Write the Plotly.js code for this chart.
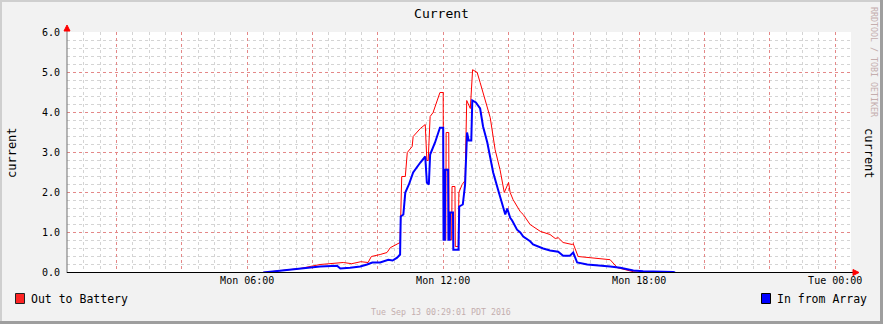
<!DOCTYPE html>
<html>
<head>
<meta charset="utf-8">
<script src="https://cdn.plot.ly/plotly-3.0.1.min.js"></script>
<style>
  html, body { margin: 0; padding: 0; background: #F2F2F2; }
  #wrap { position: relative; width: 883px; height: 324px; overflow: hidden; }
  #chart { position: absolute; left: 0; top: 0; width: 883px; height: 324px; }
  .b { position: absolute; pointer-events: none; }
</style>
</head>
<body>
<div id="wrap">
  <div id="chart"></div>
  <div class="b" style="left:0;top:0;width:883px;height:2px;background:#CFCFCF"></div>
  <div class="b" style="left:0;top:0;width:2px;height:324px;background:#CFCFCF"></div>
  <div class="b" style="left:0;top:321px;width:883px;height:3px;background:#9E9E9E"></div>
  <div class="b" style="left:880px;top:0;width:3px;height:324px;background:#9E9E9E"></div>
</div>
<script>
// ---- data (hours since Mon 00:00, amps) ----
const titleText = "Current";
const unitLabel = "current";
const seriesNames = ["Out to Battery", "In from Array"];
const seriesColors = ["#FF0000", "#0000FF"];
const xRange = [0.4836, 24.4836];
const tickHours = [2, 4, 6, 8, 10, 12, 14, 16, 18, 20, 22, 24];
const tickLabels = ["", "", "Mon 06:00", "", "", "Mon 12:00", "", "", "Mon 18:00", "", "", "Tue 00:00"];
const yTicks = [0, 1, 2, 3, 4, 5, 6];
const watermark = "Tue Sep 13 00:29:01 PDT 2016";
const sideText = "RRDTOOL / TOBI OETIKER";

const outHours = [6.49, 7.01, 7.62, 8.23, 8.5, 8.75, 8.94, 9.2, 9.33, 9.48, 9.7, 9.8, 10.07, 10.28, 10.38, 10.59, 10.68,
  10.73, 10.84, 10.9, 11.05, 11.08, 11.3, 11.45, 11.5, 11.54, 11.6, 11.69, 11.85, 11.9, 12.0,
  12.01, 12.08, 12.09, 12.17, 12.18, 12.26, 12.27, 12.36, 12.37, 12.46, 12.48, 12.58, 12.67, 12.72, 12.83, 12.9,
  13.04, 13.13, 13.22, 13.35, 13.44, 13.59, 13.74, 13.87, 13.96, 14.0, 14.05, 14.14, 14.36, 14.45, 14.66, 14.97,
  15.27, 15.43, 15.52, 15.67, 15.95, 15.98, 16.13, 16.5, 17.11, 17.33, 17.82, 18.03];
const outAmps = [0.0, 0.05, 0.1, 0.2, 0.22, 0.22, 0.25, 0.22, 0.25, 0.27, 0.25, 0.4, 0.45, 0.5, 0.62, 0.7, 0.75,
  2.4, 2.4, 3.0, 3.15, 3.4, 3.6, 3.7, 2.8, 2.8, 3.9, 4.0, 4.4, 4.5, 4.5,
  0.82, 0.82, 3.5, 3.5, 0.82, 0.82, 2.15, 2.15, 0.65, 0.65, 2.0, 2.2, 2.3, 4.3, 4.1, 5.07,
  5.0, 4.75, 4.5, 4.15, 3.87, 3.07, 2.57, 2.0, 2.2, 2.25, 2.0, 1.82, 1.52, 1.45, 1.2, 1.03,
  0.95, 0.85, 0.87, 0.75, 0.7, 0.72, 0.4, 0.37, 0.32, 0.12, 0.02, 0.0];

const inHours = [6.49, 7.01, 7.62, 8.23, 8.75, 8.85, 9.15, 9.46, 9.67, 9.83, 10.07, 10.32, 10.45, 10.59, 10.68,
  10.70, 10.78, 10.84, 10.95, 11.08, 11.3, 11.45, 11.5, 11.56, 11.6, 11.75, 11.9, 12.0,
  12.01, 12.05, 12.06, 12.15, 12.16, 12.2, 12.21, 12.3, 12.31, 12.47, 12.49, 12.6, 12.67, 12.73, 12.78, 12.86, 12.89,
  13.0, 13.13, 13.22, 13.35, 13.44, 13.53, 13.68, 13.84, 13.9, 13.96, 14.05, 14.11, 14.26, 14.36, 14.45, 14.66,
  14.75, 15.06, 15.27, 15.52, 15.67, 15.88, 15.98, 16.1, 16.41, 17.11, 17.42, 17.82, 18.12, 19.04, 19.1];
const inAmps = [0.0, 0.05, 0.1, 0.15, 0.17, 0.1, 0.12, 0.15, 0.2, 0.25, 0.25, 0.32, 0.3, 0.37, 0.45,
  1.4, 1.45, 2.0, 2.2, 2.5, 2.75, 2.9, 2.25, 2.2, 2.95, 3.25, 3.62, 3.62,
  0.82, 0.82, 2.57, 2.57, 0.82, 0.82, 1.5, 1.5, 0.57, 0.57, 1.65, 1.7, 2.2, 3.5, 3.3, 3.3, 4.3,
  4.25, 4.1, 3.65, 3.25, 2.9, 2.5, 2.07, 1.65, 1.45, 1.6, 1.37, 1.3, 1.07, 1.0, 0.9, 0.78,
  0.7, 0.6, 0.55, 0.52, 0.42, 0.42, 0.5, 0.25, 0.2, 0.15, 0.12, 0.05, 0.03, 0.01, 0.0];

// ---- grid positions (minor lines that do not sit on a major line) ----
const xMinor = [];
for (let k = 1; k <= 48; k++) { const v = k * 0.5; if (!tickHours.includes(v)) xMinor.push(v); }
const yMinor = [];
for (let k = 1; k < 30; k++) { if (k % 5 !== 0) yMinor.push(Math.round(k * 2) / 10); }

// ---- layout geometry ----
const W = 883, H = 324, L = 67, R = 32, T = 32, B = 51;
const pw = W - L - R, ph = H - T - B;          // ph = 241 px -> 40 px per amp over 6.025
const px = x => (x - L) / pw;
const py = y => (H - B - y) / ph;
const halfPx = 0.0125;                          // half a pixel in amps, keeps grid lines crisp
const yRange = [-halfPx, 6 + halfPx];

const mono = "DejaVu Sans Mono";
const majorGrid = "#E48888";
const minorGrid = "#D4D4D4";
const gdash = "dot";

const traces = [
  { x: outHours, y: outAmps, name: seriesNames[0], type: "scatter", mode: "lines",
    line: { color: seriesColors[0], width: 1 }, hoverinfo: "skip" },
  { x: inHours, y: inAmps, name: seriesNames[1], type: "scatter", mode: "lines",
    line: { color: seriesColors[1], width: 2 }, hoverinfo: "skip" }
];

const layout = {
  width: W, height: H,
  margin: { l: L, r: R, t: T, b: B, pad: 0 },
  paper_bgcolor: "#F2F2F2",
  plot_bgcolor: "#FFFFFF",
  showlegend: false,
  title: { text: titleText, font: { family: mono, size: 13, color: "#000" },
           xref: "container", x: 0.5, xanchor: "center", yref: "container", y: 1 - 13 / H, yanchor: "middle" },
  xaxis: {
    range: xRange, tickmode: "array", tickvals: tickHours, ticktext: tickLabels,
    showgrid: true, gridcolor: majorGrid, griddash: gdash, gridwidth: 1,
    minor: { tickmode: "array", tickvals: xMinor, showgrid: true, gridcolor: minorGrid, griddash: gdash, gridwidth: 1, ticklen: 0 },
    showline: false, zeroline: false, ticks: "", ticklen: 0,
    tickfont: { family: mono, size: 10, color: "#000" }, fixedrange: true
  },
  yaxis: {
    range: yRange, tickmode: "array", tickvals: yTicks, tickformat: ".1f",
    showgrid: true, gridcolor: majorGrid, griddash: gdash, gridwidth: 1,
    minor: { tickmode: "array", tickvals: yMinor, showgrid: true, gridcolor: minorGrid, griddash: gdash, gridwidth: 1, ticklen: 0 },
    showline: false, zeroline: false, ticks: "", ticklen: 0, ticklabelstandoff: 6,
    tickfont: { family: mono, size: 10, color: "#000" }, fixedrange: true
  },
  shapes: [
    { type: "line", xref: "paper", yref: "paper", x0: 0, x1: 0, y0: 0, y1: py(28), line: { color: "#707070", width: 1 }, layer: "above" },
    { type: "path", xref: "paper", yref: "paper",
      path: `M ${px(64)} ${py(31)} L ${px(70)} ${py(31)} L ${px(67)} ${py(25)} Z`,
      fillcolor: "#FF0000", line: { color: "#FF0000", width: 1 }, layer: "above" },
    { type: "line", xref: "paper", yref: "paper", x0: 0, x1: px(855), y0: py(272.5), y1: py(272.5), line: { color: "#000000", width: 1 }, layer: "above" },
    { type: "path", xref: "paper", yref: "paper",
      path: `M ${px(853)} ${py(269.5)} L ${px(853)} ${py(275.5)} L ${px(859)} ${py(272.5)} Z`,
      fillcolor: "#FF0000", line: { color: "#FF0000", width: 1 }, layer: "above" },
    { type: "rect", xref: "paper", yref: "paper", x0: px(15.5), x1: px(24.5), y0: py(303.5), y1: py(293.5),
      fillcolor: seriesColors[0], line: { color: "#000", width: 1 }, opacity: 0.85 },
    { type: "rect", xref: "paper", yref: "paper", x0: px(761.5), x1: px(770.5), y0: py(303.5), y1: py(293.5),
      fillcolor: seriesColors[1], line: { color: "#000", width: 1 } }
  ],
  annotations: [
    { text: unitLabel, xref: "paper", yref: "paper", x: px(12), y: py(153), textangle: -90,
      showarrow: false, xanchor: "center", yanchor: "middle", font: { family: mono, size: 12, color: "#000" } },
    { text: unitLabel, xref: "paper", yref: "paper", x: px(869), y: py(153), textangle: 90,
      showarrow: false, xanchor: "center", yanchor: "middle", font: { family: mono, size: 12, color: "#000" } },
    { text: seriesNames[0], xref: "paper", yref: "paper", x: px(29), y: py(298.5),
      showarrow: false, xanchor: "left", yanchor: "middle", font: { family: mono, size: 11.5, color: "#000" } },
    { text: seriesNames[1], xref: "paper", yref: "paper", x: px(775), y: py(298.5),
      showarrow: false, xanchor: "left", yanchor: "middle", font: { family: mono, size: 11.5, color: "#000" } },
    { text: watermark, xref: "paper", yref: "paper", x: px(441), y: py(312),
      showarrow: false, xanchor: "center", yanchor: "middle", font: { family: mono, size: 8.3, color: "#C4AEAE" } },
    { text: sideText, xref: "paper", yref: "paper", x: px(874), y: py(62), textangle: 90,
      showarrow: false, xanchor: "center", yanchor: "middle", font: { family: mono, size: 8.3, color: "#C4AEAE" } }
  ]
};

Plotly.newPlot("chart", traces, layout, { staticPlot: true, displayModeBar: false });
</script>
</body>
</html>
